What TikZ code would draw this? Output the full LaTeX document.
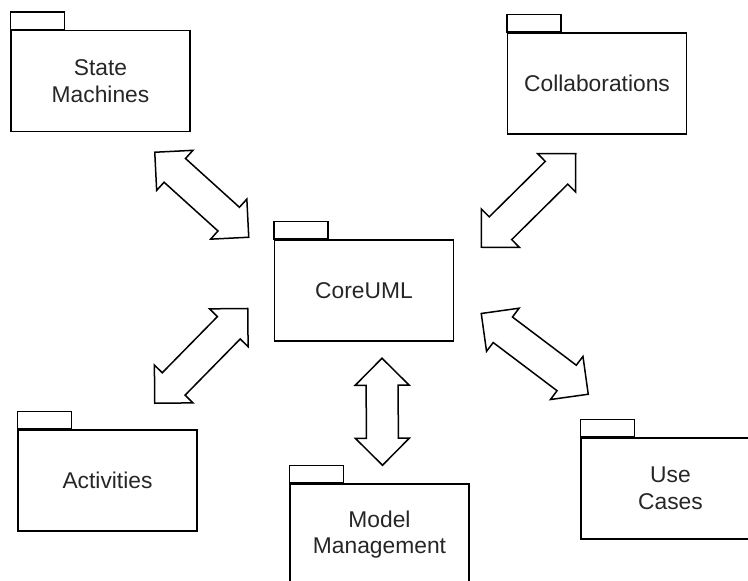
\documentclass[tikz,border=0pt]{standalone}
\usepackage{fontspec}
\setmainfont{Liberation Sans}
\usetikzlibrary{calc}
\usetikzlibrary{positioning}

\tikzset{
  pkg/.style={draw, line width=1.5pt, minimum width=179pt, minimum height=101pt,
    align=center, inner sep=0pt, text=black!85, font=\fontsize{22.8}{26.5}\selectfont},
  pkgtab/.style={draw, line width=1.5pt},
  fatlink/.style={draw, line width=1.5pt, line join=miter, fill=white,
    to path={(\tikztostart)
      -- ($(\tikztostart)!38.2pt!45:(\tikztotarget)$)
      -- ($(\tikztostart)!31.4pt!30.6:(\tikztotarget)$)
      -- ($(\tikztotarget)!31.4pt!-30.6:(\tikztostart)$)
      -- ($(\tikztotarget)!38.2pt!-45:(\tikztostart)$)
      -- (\tikztotarget)
      -- ($(\tikztotarget)!38.2pt!45:(\tikztostart)$)
      -- ($(\tikztotarget)!31.4pt!30.6:(\tikztostart)$)
      -- ($(\tikztostart)!31.4pt!-30.6:(\tikztotarget)$)
      -- ($(\tikztostart)!38.2pt!-45:(\tikztotarget)$)
      -- cycle}}
}

\begin{document}
\begin{tikzpicture}[x=1pt, y=1pt]
    \useasboundingbox (0,0) rectangle (748,581);

    % packages
    \node[pkg] (core) at (364,290.5) {CoreUML};
    \node[pkg] (sm)   at (100.5,500) {State\\Machines};
    \node[pkg] (col)  at (597,497.5) {Collaborations};
    \node[pkg] (act)  at (107.5,100.5) {Activities};
    \node[pkg] (mm)   at (379.5,46.5) {Model\\Management};
    \node[pkg] (uc)   at (670.5,92.5) {Use\\Cases};

    % tabs on top of each package
    \foreach \p in {core,sm,col,act,mm,uc}
      \draw[pkgtab] (\p.north west) rectangle ++(54,17.5);

    % ends of the links
    \coordinate (smA)   at ([shift={(-36,-20)}]sm.south east);
    \coordinate (smB)   at ([shift={(-25,2)}]core.north west);
    \coordinate (colA)  at ([shift={(69,-19)}]col.south west);
    \coordinate (colB)  at ([shift={(27,-8)}]core.north east);
    \coordinate (actA)  at ([shift={(-26,-18)}]core.west);
    \coordinate (actB)  at ([shift={(-43,26)}]act.north east);
    \coordinate (mmA)   at ([shift={(18,-16.5)}]core.south);
    \coordinate (mmB)   at ([shift={(3,18)}]mm.north);
    \coordinate (ucA)   at ([shift={(27,-23)}]core.east);
    \coordinate (ucB)   at ([shift={(8,43)}]uc.north west);

    % links
    \path (smA) edge[fatlink] (smB)
          (colA) edge[fatlink] (colB)
          (actA) edge[fatlink] (actB)
          (mmA) edge[fatlink] (mmB)
          (ucA) edge[fatlink] (ucB);
\end{tikzpicture}
\end{document}
